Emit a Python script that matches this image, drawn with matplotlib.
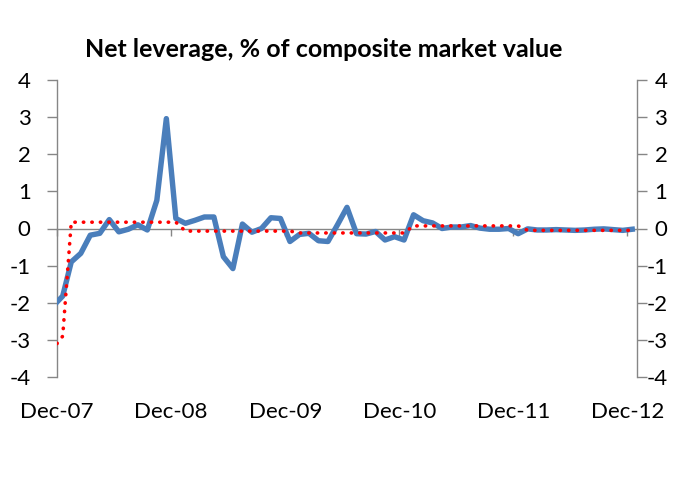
import numpy as np
import matplotlib
matplotlib.use("Agg")
import matplotlib.pyplot as plt
import matplotlib.transforms as mtransforms

plt.rcParams['font.family'] = ['Lato', 'DejaVu Sans']
plt.rcParams['axes.unicode_minus'] = False

# x positions in months since Dec-07
months = [0.0, 0.6] + list(np.arange(1.5, 61.0, 1.0))

net_leverage = [-1.98, -1.82,
                -0.90, -0.67, -0.18, -0.13, 0.24, -0.09, -0.02, 0.10, -0.04, 0.76, 2.96, 0.27,
                0.14, 0.22, 0.31, 0.31, -0.76, -1.08, 0.12, -0.10, 0.00, 0.29, 0.27, -0.35,
                -0.16, -0.13, -0.33, -0.35, 0.10, 0.57, -0.14, -0.15, -0.08, -0.31, -0.22, -0.31,
                0.37, 0.21, 0.15, 0.00, 0.04, 0.04, 0.08, 0.01, -0.02, -0.02, 0.00, -0.14,
                -0.01, -0.04, -0.04, -0.03, -0.04, -0.05, -0.04, -0.02, -0.01, -0.03, -0.05, -0.02]

annual_avg = [-3.10, -2.90] + [0.17] * 12 + [-0.07] * 12 + [-0.12] * 12 + [0.07] * 12 + [-0.05] * 12

tick_months = [0, 12, 24, 36, 48, 60]
tick_labels = ['Dec-07', 'Dec-08', 'Dec-09', 'Dec-10', 'Dec-11', 'Dec-12']
y_ticks = [-4, -3, -2, -1, 0, 1, 2, 3, 4]
title = 'Net leverage, % of composite market value'

W, H = 684, 503
fig = plt.figure(figsize=(W / 100, H / 100), dpi=100)
ax = fig.add_axes([57 / W, 1 - 377 / H, (637 - 57) / W, (377 - 80) / H])

grey = '#868686'
ax.plot(months, net_leverage, color='#4A7EBB', lw=3.9, solid_joinstyle='round', zorder=3)
ax.plot(months, annual_avg, color='#FF0000', lw=2.6, linestyle=(0, (0.1, 2.25)),
        dash_capstyle='round', zorder=4)

ax.set_xlim(0, 61)
ax.set_ylim(-4, 4)

ax.spines['top'].set_visible(False)
ax.spines['bottom'].set_position(('data', 0))
for s in ['left', 'right', 'bottom']:
    ax.spines[s].set_color(grey)
    ax.spines[s].set_linewidth(1.0)

ax.set_xticks(tick_months)
ax.set_xticklabels(tick_labels)
ax.tick_params(axis='x', direction='out', length=5, width=1, color=grey, pad=120,
               labelsize=16, labelcolor='#000000')

ax.set_yticks(y_ticks)
ax.set_yticklabels([str(v) for v in y_ticks])
ax.tick_params(axis='y', left=True, right=True, labelleft=True, labelright=True,
               direction='out', length=7, width=1, color=grey, pad=12,
               labelsize=16, labelcolor='#000000')
offset = mtransforms.ScaledTranslation(4 / 100, 0, fig.dpi_scale_trans)
for t in ax.yaxis.get_major_ticks():
    t.label2.set_horizontalalignment('right')
    t.label2.set_transform(t.label2.get_transform() + offset)

fig.text(324 / W, 1 - 57 / H, title, ha='center', va='baseline', fontsize=18,
         fontweight='bold', color='#000000')

fig.savefig('out.png', dpi=100)
